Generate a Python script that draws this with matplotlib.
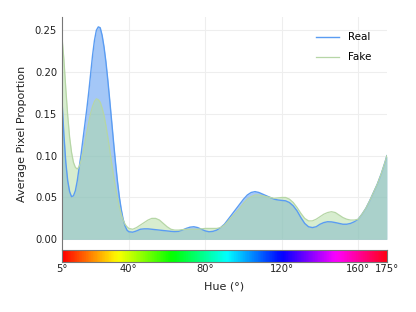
import numpy as np
import matplotlib
matplotlib.use("Agg")
import matplotlib.pyplot as plt

# ── Data ─────────────────────────────────────────────────────────────────────
hue = [5, 6, 7, 8, 9, 10, 11, 12, 13, 14, 15, 16, 17, 18, 19, 20, 21, 22, 23, 24,
       25, 26, 27, 28, 29, 30, 31, 32, 33, 34, 35, 36, 37, 38, 39, 40, 42, 44, 46,
       48, 50, 52, 54, 56, 58, 60, 62, 64, 66, 68, 70, 72, 74, 76, 78, 80, 82, 84,
       86, 88, 90, 92, 94, 96, 98, 100, 102, 104, 106, 108, 110, 112, 114, 116,
       118, 120, 122, 124, 126, 128, 130, 132, 134, 136, 138, 140, 142, 144, 146,
       148, 150, 152, 154, 156, 158, 160, 162, 164, 166, 168, 170, 172, 174, 175]

real = [0.166, 0.125, 0.092, 0.070, 0.057, 0.051, 0.052, 0.058, 0.070, 0.086,
        0.102, 0.120, 0.138, 0.156, 0.176, 0.198, 0.220, 0.238, 0.250, 0.254,
        0.253, 0.244, 0.230, 0.212, 0.190, 0.166, 0.141, 0.116, 0.092, 0.070,
        0.051, 0.036, 0.024, 0.016, 0.011, 0.009, 0.0085, 0.010, 0.012,
        0.0125, 0.0125, 0.012, 0.0115, 0.011, 0.0105, 0.010, 0.0095, 0.0092,
        0.0095, 0.011, 0.013, 0.0145, 0.015, 0.014, 0.012, 0.010, 0.009, 0.0095,
        0.011, 0.014, 0.018, 0.024, 0.030, 0.036, 0.042, 0.048, 0.053, 0.056,
        0.057, 0.056, 0.054, 0.052, 0.050, 0.048, 0.047, 0.0465, 0.046, 0.044,
        0.040, 0.034, 0.026, 0.019, 0.015, 0.014, 0.015, 0.018, 0.020, 0.021,
        0.0208, 0.020, 0.019, 0.018, 0.018, 0.019, 0.021, 0.024, 0.030, 0.037,
        0.046, 0.056, 0.066, 0.078, 0.092, 0.100]

fake = [0.242, 0.215, 0.180, 0.148, 0.122, 0.104, 0.092, 0.086, 0.084, 0.087,
        0.094, 0.104, 0.116, 0.128, 0.140, 0.151, 0.159, 0.165, 0.168, 0.167,
        0.164, 0.157, 0.148, 0.136, 0.122, 0.107, 0.091, 0.076, 0.062, 0.050,
        0.039, 0.030, 0.023, 0.018, 0.015, 0.013, 0.012, 0.014, 0.017,
        0.020, 0.023, 0.025, 0.025, 0.023, 0.019, 0.015, 0.012, 0.011,
        0.011, 0.0115, 0.012, 0.012, 0.012, 0.012, 0.0125, 0.013, 0.013, 0.013,
        0.013, 0.014, 0.017, 0.022, 0.027, 0.032, 0.037, 0.043, 0.048, 0.051,
        0.053, 0.053, 0.052, 0.051, 0.050, 0.049, 0.0495, 0.050, 0.050, 0.048,
        0.044, 0.038, 0.031, 0.025, 0.022, 0.022, 0.024, 0.027, 0.030, 0.032,
        0.033, 0.032, 0.029, 0.026, 0.024, 0.023, 0.023, 0.024, 0.030, 0.037,
        0.046, 0.056, 0.066, 0.078, 0.092, 0.100]

tick_pos = [5, 40, 80, 120, 160, 175]
tick_lab = ["5°", "40°", "80°", "120°", "160°", "175°"]

REAL_C = "#4a90f0"
REAL_LINE = "#5a9cf2"
FAKE_C = "#b0dca0"
FAKE_LINE = "#b6d6a6"

fig = plt.figure(figsize=(4.16, 3.12), dpi=100)
ax = fig.add_axes([0.149, 0.199, 0.781, 0.747])
cax = fig.add_axes([0.149, 0.160, 0.781, 0.039])

ax.fill_between(hue, real, color=REAL_C, alpha=0.5, linewidth=0)
ax.plot(hue, real, color=REAL_LINE, linewidth=1.0, label="Real")
ax.fill_between(hue, fake, color=FAKE_C, alpha=0.5, linewidth=0)
ax.plot(hue, fake, color=FAKE_LINE, linewidth=0.9, label="Fake")

ax.set_xlim(5, 175)
ax.set_ylim(-0.0127, 0.266)
ax.set_xticks([40, 80, 120, 160])
ax.set_xticklabels([])
ax.set_yticks([0.0, 0.05, 0.10, 0.15, 0.20, 0.25])
ax.set_yticklabels(["0.00", "0.05", "0.10", "0.15", "0.20", "0.25"])
ax.tick_params(length=0, labelsize=7.2, colors="#222222", pad=3.5)
ax.grid(True, color="#eeeeee", linewidth=0.8)
ax.set_axisbelow(True)
for s in ["top", "right", "bottom"]:
    ax.spines[s].set_visible(False)
ax.spines["left"].set_color("#777777")
ax.set_ylabel("Average Pixel Proportion", fontsize=8, color="#222222",
              labelpad=6)

leg = ax.legend(loc="upper right", frameon=False, fontsize=7.5,
                handlelength=2.2, handletextpad=0.9, labelspacing=0.95,
                borderaxespad=1.1)

# hue strip: full hsv wheel stretched over the 5-175 range
strip = np.linspace(0.0, 1.0, 400)[None, :]
cax.imshow(strip, cmap="hsv", vmin=0, vmax=1, aspect="auto",
           extent=[5, 175, 0, 1])
cax.set_xlim(5, 175)
cax.set_yticks([])
cax.set_xticks(tick_pos)
cax.set_xticklabels(tick_lab)
cax.tick_params(length=0, labelsize=7.2, colors="#222222", pad=1.5)
for s in cax.spines.values():
    s.set_color("#777777")
    s.set_linewidth(0.8)
cax.set_xlabel("Hue (°)", fontsize=8, color="#222222", labelpad=5.5)

fig.savefig("out.png", dpi=100)
